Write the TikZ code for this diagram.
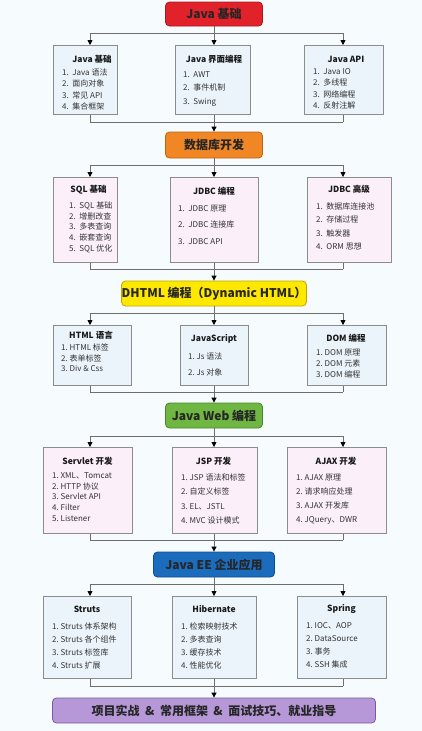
\documentclass[tikz,border=0pt]{standalone}
\usepackage{fontspec}
\setmainfont{Noto Sans CJK SC}
\usetikzlibrary{arrows.meta}
\definecolor{pagebg}{RGB}{246,251,253}
\definecolor{lineclr}{RGB}{110,110,110}
\definecolor{boxedge}{RGB}{140,140,140}
\definecolor{boxblue}{RGB}{236,244,251}
\definecolor{boxpink}{RGB}{251,239,250}
\definecolor{redfill}{RGB}{226,34,42}
\definecolor{redline}{RGB}{170,25,30}
\definecolor{orgfill}{RGB}{240,135,36}
\definecolor{orgline}{RGB}{190,100,20}
\definecolor{ylwfill}{RGB}{255,232,0}
\definecolor{ylwline}{RGB}{190,170,0}
\definecolor{grnfill}{RGB}{112,182,66}
\definecolor{grnline}{RGB}{75,135,40}
\definecolor{blufill}{RGB}{28,108,190}
\definecolor{bluline}{RGB}{18,75,140}
\definecolor{prpfill}{RGB}{182,152,216}
\definecolor{prpline}{RGB}{120,90,165}
\tikzset{
  hdr/.style={rounded corners=4pt, line width=0.8pt, inner sep=0pt, text=black!85,
    font=\fontsize{12}{14}\selectfont\bfseries},
  boxbl/.style={anchor=north west, draw=boxedge, fill=boxblue, line width=0.8pt, inner sep=0pt},
  boxpk/.style={boxbl, fill=boxpink},
  ttl/.style={inner sep=0pt, text=black!90, font=\fontsize{8.5}{10}\selectfont\bfseries},
  lst/.style={anchor=north west, align=left, inner sep=0pt, text=black!80,
    font=\fontsize{8}{#1}\selectfont},
  busln/.style={line width=0.8pt, draw=lineclr},
  arrln/.style={busln, -{Triangle[length=5pt,width=5pt,color=black]}},
}
% columns of the three arrows under each header
\newcommand{\colA}{90}
\newcommand{\colB}{214}
\newcommand{\colC}{343}
% header -> bus -> three boxes
\newcommand{\fanout}[3]{%
  \coordinate (#1-l) at (\colA,#2);
  \coordinate (#1-m) at (\colB,#2);
  \coordinate (#1-r) at (\colC,#2);
  \draw[busln] (#1.south) -- (#1-m);
  \draw[busln] (#1-l) -- (#1-r);
  \draw[arrln] (#1-l) -- (#1-l |- #31.north);
  \draw[arrln] (#1-m) -- (#1-m |- #32.north);
  \draw[arrln] (#1-r) -- (#1-r |- #33.north);
}
% three boxes -> bus -> next header
\newcommand{\fanin}[3]{%
  \coordinate (#1-l) at (\colA,#2);
  \coordinate (#1-m) at (\colB,#2);
  \coordinate (#1-r) at (\colC,#2);
  \draw[busln] (#1-l |- #11.south) -- (#1-l);
  \draw[busln] (#1-m |- #12.south) -- (#1-m);
  \draw[busln] (#1-r |- #13.south) -- (#1-r);
  \draw[busln] (#1-l) -- (#1-r);
  \draw[arrln] (#1-m) -- (#3.north);
}

\begin{document}
\begin{tikzpicture}[x=1pt, y=-1pt]
  \fill[pagebg] (0,0) rectangle (422,731);
  \useasboundingbox (0,0) rectangle (422,731);

  % level 1: Java basics
  \node[hdr, fill=redfill, draw=redline, minimum width=97pt, minimum height=24pt] (h1) at (214,14) {Java 基础};
  \node[boxbl, minimum width=64pt, minimum height=69pt] (b11) at (53,45) {};
  \node[boxbl, minimum width=75pt, minimum height=69pt] (b12) at (175,45) {};
  \node[boxbl, minimum width=79pt, minimum height=69pt] (b13) at (304,45) {};
  \node[ttl] (t11) at (92,59) {Java 基础};
  \node[ttl] (t12) at (214,59) {Java 界面编程};
  \node[ttl] (t13) at (346,59) {Java API};
  \node[lst=11.3] (l11) at (62,68.5) {1.\ \ Java 语法\\2.\ \ 面向对象\\3.\ \ 常见 API\\4.\ \ 集合框架};
  \node[lst=13.3] (l12) at (183,71.5) {1.\ \ AWT\\2.\ \ 事件机制\\3.\ \ Swing};
  \node[lst=11.3] (l13) at (313,68.5) {1.\ \ Java IO\\2.\ \ 多线程\\3.\ \ 网络编程\\4.\ \ 反射注解};
  \fanout{h1}{33}{b1}

  % level 2: databases
  \node[hdr, fill=orgfill, draw=orgline, minimum width=97pt, minimum height=26pt] (h2) at (214,145) {数据库开发};
  \fanin{b1}{122}{h2}
  \node[boxpk, minimum width=64pt, minimum height=85pt] (b21) at (53,177) {};
  \node[boxpk, minimum width=88pt, minimum height=85pt] (b22) at (170,177) {};
  \node[boxpk, minimum width=84pt, minimum height=85pt] (b23) at (307,177) {};
  \node[ttl] (t21) at (88.5,190) {SQL 基础};
  \node[ttl] (t22) at (214,191) {JDBC 编程};
  \node[ttl] (t23) at (349,189) {JDBC 高级};
  \node[lst=10.7] (l21) at (69,201.5) {1.\ \ SQL 基础\\2.\ \ 增删改查\\3.\ \ 多表查询\\4.\ \ 嵌套查询\\5.\ \ SQL 优化};
  \node[lst=16.7] (l22) at (178,204.5) {1.\ \ JDBC 原理\\2.\ \ JDBC 连接库\\3.\ \ JDBC API};
  \node[lst=13.4] (l23) at (316,202.5) {1.\ \ 数据库连接池\\2.\ \ 存储过程\\3.\ \ 触发器\\4.\ \ ORM 思想};
  \fanout{h2}{165}{b2}

  % level 3: DHTML
  \node[hdr, fill=ylwfill, draw=ylwline, minimum width=167pt, minimum height=25pt] (h3) at (214,293.5) {DHTML 编程（Dynamic HTML）};
  \fanin{b2}{269}{h3}
  \node[boxbl, minimum width=78pt, minimum height=60pt] (b31) at (53,325) {};
  \node[boxbl, minimum width=68pt, minimum height=60pt] (b32) at (180,325) {};
  \node[boxbl, minimum width=79pt, minimum height=60pt] (b33) at (307,325) {};
  \node[ttl] (t31) at (91,335) {HTML 语言};
  \node[ttl] (t32) at (214,339) {JavaScript};
  \node[ttl] (t33) at (346,338) {DOM 编程};
  \node[lst=10.7] (l31) at (61,343.5) {1.\ HTML 标签\\2.\ 表单标签\\3.\ Div \& Css};
  \node[lst=16] (l32) at (188,352.5) {1.\ Js 语法\\2.\ Js 对象};
  \node[lst=11] (l33) at (316,348.5) {1.\ DOM 原理\\2.\ DOM 元素\\3.\ DOM 编程};
  \fanout{h3}{313}{b3}

  % level 4: Java Web
  \node[hdr, fill=grnfill, draw=grnline, minimum width=97pt, minimum height=25pt] (h4) at (214,415.5) {Java Web 编程};
  \fanin{b3}{392}{h4}
  \node[boxpk, minimum width=89pt, minimum height=86pt] (b41) at (43,447) {};
  \node[boxpk, minimum width=85pt, minimum height=86pt] (b42) at (172,447) {};
  \node[boxpk, minimum width=99pt, minimum height=86pt] (b43) at (287,447) {};
  \node[ttl] (t41) at (87.5,461) {Servlet 开发};
  \node[ttl] (t42) at (213.5,461) {JSP 开发};
  \node[ttl] (t43) at (336,461) {AJAX 开发};
  \node[lst=10.7] (l41) at (52,472.5) {1.\ XML、Tomcat\\2.\ HTTP 协议\\3.\ Servlet API\\4.\ Filter\\5.\ Listener};
  \node[lst=14.3] (l42) at (181,473.5) {1.\ JSP 语法和标签\\2.\ 自定义标签\\3.\ EL、JSTL\\4.\ MVC 设计模式};
  \node[lst=14.3] (l43) at (296,473.5) {1.\ AJAX 原理\\2.\ 请求响应处理\\3.\ AJAX 开发库\\4.\ JQuery、DWR};
  \fanout{h4}{436}{b4}

  % level 5: Java EE
  \node[hdr, fill=blufill, draw=bluline, minimum width=121pt, minimum height=25pt] (h5) at (214,564.5) {Java EE 企业应用};
  \fanin{b4}{540}{h5}
  \node[boxbl, minimum width=88pt, minimum height=82pt] (b51) at (43,596) {};
  \node[boxbl, minimum width=84pt, minimum height=82pt] (b52) at (172,596) {};
  \node[boxbl, minimum width=89pt, minimum height=82pt] (b53) at (297,596) {};
  \node[ttl] (t51) at (87,609) {Struts};
  \node[ttl] (t52) at (214,609) {Hibernate};
  \node[ttl] (t53) at (341.5,609) {Spring};
  \node[lst=13] (l51) at (52,622.5) {1.\ Struts 体系架构\\2.\ Struts 各个组件\\3.\ Struts 标签库\\4.\ Struts 扩展};
  \node[lst=13] (l52) at (181,622.5) {1.\ 检索映射技术\\2.\ 多表查询\\3.\ 缓存技术\\4.\ 性能优化};
  \node[lst=13] (l53) at (306,622.5) {1.\ IOC、AOP\\2.\ DataSource\\3.\ 事务\\4.\ SSH 集成};
  \fanout{h5}{584}{b5}

  % last step
  \node[hdr, fill=prpfill, draw=prpline, minimum width=323pt, minimum height=25pt] (h6) at (214,710.5) {项目实战 \ \&\ \ 常用框架 \ \&\ \ 面试技巧、就业指导};
  \fanin{b5}{686}{h6}
\end{tikzpicture}
\end{document}
